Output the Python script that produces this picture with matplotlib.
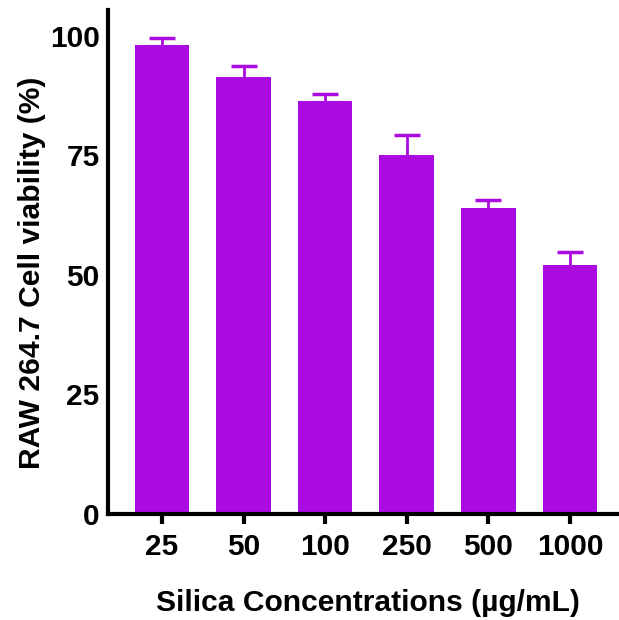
import matplotlib
matplotlib.use("Agg")
import matplotlib.pyplot as plt
import numpy as np

plt.rcParams['font.family'] = ['Liberation Sans', 'DejaVu Sans']
plt.rcParams['font.weight'] = 'bold'

concentrations = ['25', '50', '100', '250', '500', '1000']
viability = [98.1, 91.4, 86.3, 75.1, 64.0, 52.1]
sd_upper = [1.5, 2.3, 1.6, 4.1, 1.7, 2.7]

BAR_COLOR = '#AA0BE0'

fig = plt.figure(figsize=(6.19, 6.20), dpi=100)
ax = fig.add_axes([0.1745, 0.171, 0.8255, 0.813])

x = np.arange(len(concentrations))
vals = np.array(viability)
errs = np.array(sd_upper)
ax.bar(x, vals, width=0.67, color=BAR_COLOR, zorder=2)
# upper error only, cap on top only
ax.vlines(x, vals, vals + errs, color=BAR_COLOR, linewidth=2, zorder=3)
ax.plot(x, vals + errs, linestyle='none', marker='_', markersize=19.4,
        markeredgewidth=2.5, color=BAR_COLOR, zorder=3)

ax.set_xlim(-0.66, 5.6)
ax.set_ylim(0, 105.4)
ax.set_xticks(x)
ax.set_xticklabels(concentrations)
ax.set_yticks([0, 25, 50, 75, 100])

for s in ['top', 'right']:
    ax.spines[s].set_visible(False)
for s in ['left', 'bottom']:
    ax.spines[s].set_linewidth(3)

ax.tick_params(axis='x', length=7, width=3, labelsize=21.5, pad=7)
ax.tick_params(axis='y', length=0, labelsize=21.5, pad=6)
for lab in ax.get_xticklabels() + ax.get_yticklabels():
    lab.set_fontweight('bold')

ax.set_xlabel('Silica Concentrations (µg/mL)', fontsize=21.6, fontweight='bold', va='center')
ax.xaxis.set_label_coords(0.509, -0.177)
ax.set_ylabel('RAW 264.7 Cell viability (%)', fontsize=21.6, fontweight='bold', va='center')
ax.yaxis.set_label_coords(-0.149, 0.478)

fig.savefig('out.png', dpi=100)
